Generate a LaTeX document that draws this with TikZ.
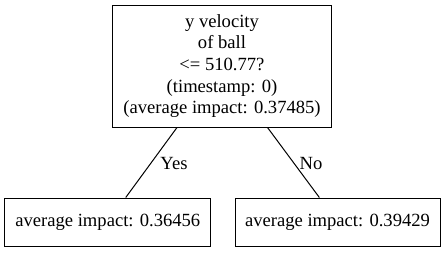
\documentclass[tikz,border=0pt]{standalone}
\usepackage{fontspec}
\setmainfont{Liberation Serif}
\begin{document}
\begin{tikzpicture}[x=1pt,y=1pt,
  box/.style={draw=black,line width=1pt,inner sep=0pt,align=center,font=\fontsize{18.6}{21.7}\selectfont},
  lbl/.style={inner sep=0pt,font=\fontsize{18.6}{21.7}\selectfont},
  edge/.style={draw=black,line width=1pt}]
\useasboundingbox[fill=white] (0,0) rectangle (445,-252);
\node[box,minimum width=219.4pt,minimum height=122pt] (root) at (222,-66)
  {y velocity\\of ball\\<= 510.77?\\(timestamp: 0)\\(average impact: 0.37485)};
\node[box,minimum width=205.7pt,minimum height=48pt] (left) at (107.8,-222) {average impact: 0.36456};
\node[box,minimum width=205pt,minimum height=48pt] (right) at (337.5,-222) {average impact: 0.39429};
\draw[edge] (root) -- (left);
\draw[edge] (root) -- (right);
\node[lbl] (yes) at (174,-163) {Yes};
\node[lbl] (no) at (311,-163) {No};
\end{tikzpicture}
\end{document}
